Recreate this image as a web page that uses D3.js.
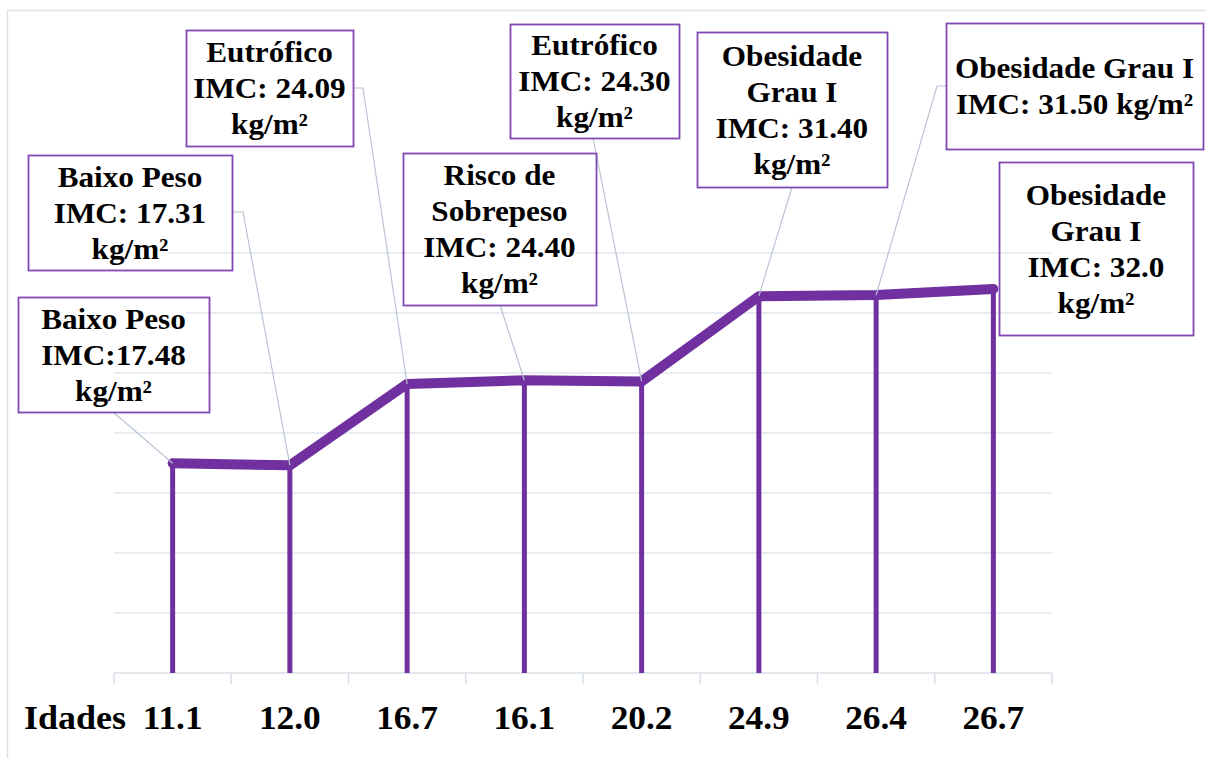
<!DOCTYPE html>
<html>
<head>
<meta charset="utf-8">
<script src="https://cdn.jsdelivr.net/npm/d3@7"></script>
<style>
  html, body { margin: 0; padding: 0; background: #ffffff; }
  svg { display: block; }
</style>
</head>
<body>
<svg id="chart" width="1206" height="758"></svg>
<script>
// Ages (category axis) and BMI per observation
const ages = ["11.1", "12.0", "16.7", "16.1", "20.2", "24.9", "26.4", "26.7"];
const imc = [17.48, 17.31, 24.09, 24.40, 24.30, 31.40, 31.50, 32.0];
const classes = ["Baixo Peso", "Baixo Peso", "Eutrófico", "Risco de Sobrepeso",
                 "Eutrófico", "Obesidade Grau I", "Obesidade Grau I", "Obesidade Grau I"];
const axisTitle = "Idades";
const yTicks = [5, 10, 15, 20, 25, 30, 35];

// Callout text, one entry per point (line breaks as displayed)
const calloutLines = [
  ["Baixo Peso", "IMC:17.48", "kg/m²"],
  ["Baixo Peso", "IMC: 17.31", "kg/m²"],
  ["Eutrófico", "IMC: 24.09", "kg/m²"],
  ["Risco de", "Sobrepeso", "IMC: 24.40", "kg/m²"],
  ["Eutrófico", "IMC: 24.30", "kg/m²"],
  ["Obesidade", "Grau I", "IMC: 31.40", "kg/m²"],
  ["Obesidade Grau I", "IMC: 31.50 kg/m²"],
  ["Obesidade", "Grau I", "IMC: 32.0", "kg/m²"]
];

// Callout box placement and leader anchor (box edge point, optional elbow)
const calloutLayout = [
  { x: 18,  y: 297, w: 191, h: 115, leader: [[113, 412]] },
  { x: 28,  y: 155, w: 204, h: 115, leader: [[232, 212], [243, 212]] },
  { x: 186, y: 30,  w: 167, h: 116, leader: [[353, 88], [363, 88]] },
  { x: 403, y: 153, w: 193, h: 152, leader: [[500, 305]] },
  { x: 510, y: 24,  w: 169, h: 114, leader: [[593, 138]] },
  { x: 697, y: 32,  w: 190, h: 155, leader: [[792, 187]] },
  { x: 946, y: 23,  w: 257, h: 126, leader: [[946, 86], [937, 86]] },
  { x: 999, y: 162, w: 194, h: 173, leader: null }
];

const FONT = "'Liberation Serif', 'Tinos', 'Times New Roman', serif";
const purple = "#7030A0";
const gridColor = "#e2e6ee";
const leaderColor = "#b9c4d4";
const stretch = 1.04;   // slightly wide lettering

const svg = d3.select("#chart");

// Chart frame
svg.append("rect")
  .attr("x", 7.5).attr("y", 10.5)
  .attr("width", 1220).attr("height", 760)
  .attr("fill", "none").attr("stroke", "#dde2ea").attr("stroke-width", 1.5);

const plot = { left: 114, right: 1052, top: 253, bottom: 673 };

const x = d3.scaleBand()
  .domain(d3.range(ages.length))
  .range([plot.left, plot.right])
  .padding(0);

const y = d3.scaleLinear()
  .domain([0, 35])
  .range([plot.bottom, plot.top]);

const cx = i => x(i) + x.bandwidth() / 2;

// Horizontal gridlines
svg.append("g")
  .selectAll("line")
  .data(yTicks)
  .join("line")
  .attr("x1", plot.left).attr("x2", plot.right)
  .attr("y1", d => y(d)).attr("y2", d => y(d))
  .attr("stroke", gridColor).attr("stroke-width", 1.5);

// Category axis
const xAxis = d3.axisBottom(x)
  .tickSize(0)
  .tickPadding(0)
  .tickFormat(i => ages[i]);

const axisG = svg.append("g")
  .attr("transform", `translate(0,${plot.bottom})`)
  .call(xAxis)
  .attr("font-family", FONT)
  .attr("font-size", 34)
  .attr("font-weight", "bold");
axisG.select(".domain").remove();
axisG.selectAll(".tick text")
  .attr("y", 0)
  .attr("dy", 0)
  .attr("transform", `translate(0,56) scale(${stretch},1)`)
  .attr("fill", "#000");

svg.append("line")
  .attr("x1", plot.left).attr("x2", plot.right)
  .attr("y1", plot.bottom).attr("y2", plot.bottom)
  .attr("stroke", "#d9dee7").attr("stroke-width", 1.5);

// Tick marks on category boundaries
svg.append("g")
  .selectAll("line")
  .data(d3.range(ages.length + 1))
  .join("line")
  .attr("x1", i => plot.left + i * x.step())
  .attr("x2", i => plot.left + i * x.step())
  .attr("y1", plot.bottom).attr("y2", plot.bottom + 11)
  .attr("stroke", "#d9dee7").attr("stroke-width", 1.5);

svg.append("text")
  .attr("transform", `translate(24,${plot.bottom + 56}) scale(1.06,1)`)
  .attr("font-family", FONT)
  .attr("font-weight", "bold")
  .attr("font-size", 34)
  .attr("fill", "#000")
  .text(axisTitle);

// Drop lines from each point to the axis
svg.append("g")
  .selectAll("line")
  .data(imc)
  .join("line")
  .attr("x1", (d, i) => cx(i)).attr("x2", (d, i) => cx(i))
  .attr("y1", d => y(d)).attr("y2", plot.bottom)
  .attr("stroke", purple).attr("stroke-width", 5);

// BMI line
const line = d3.line()
  .x((d, i) => cx(i))
  .y(d => y(d));

svg.append("path")
  .datum(imc)
  .attr("d", line)
  .attr("fill", "none")
  .attr("stroke", purple)
  .attr("stroke-width", 10)
  .attr("stroke-linejoin", "round")
  .attr("stroke-linecap", "round");

// Leader lines from callouts to points
svg.append("g")
  .selectAll("polyline")
  .data(calloutLayout.map((c, i) => ({ c, i })).filter(o => o.c.leader))
  .join("polyline")
  .attr("points", o => o.c.leader.concat([[cx(o.i), y(imc[o.i])]]).map(p => p.join(",")).join(" "))
  .attr("fill", "none")
  .attr("stroke", leaderColor)
  .attr("stroke-width", 1.2);

// Callout boxes
const fs = 30, lh = 36;
const callouts = svg.append("g")
  .selectAll("g")
  .data(calloutLayout.map((c, i) => ({ c, lines: calloutLines[i], cls: classes[i] })))
  .join("g");

callouts.append("rect")
  .attr("x", d => d.c.x + 0.5).attr("y", d => d.c.y + 0.5)
  .attr("width", d => d.c.w).attr("height", d => d.c.h)
  .attr("fill", "none")
  .attr("stroke", "#8048b4").attr("stroke-width", 1.8);

callouts.each(function (d) {
  const g = d3.select(this);
  const midX = d.c.x + d.c.w / 2;
  const midY = d.c.y + d.c.h / 2;
  const n = d.lines.length;
  d.lines.forEach((t, k) => {
    const base = midY + (k - (n - 1) / 2) * lh + fs * 0.34;
    const bg = g.append("rect").attr("fill", "#ffffff");
    const txt = g.append("text")
      .attr("transform", `translate(${midX},${base}) scale(${stretch},1)`)
      .attr("text-anchor", "middle")
      .attr("font-family", FONT)
      .attr("font-weight", "bold")
      .attr("font-size", fs)
      .attr("fill", "#000")
      .text(t);
    const w = txt.node().getComputedTextLength() * stretch;
    bg.attr("x", midX - w / 2).attr("y", base - fs * 0.72)
      .attr("width", w).attr("height", fs * 0.95);
  });
});
</script>
</body>
</html>
